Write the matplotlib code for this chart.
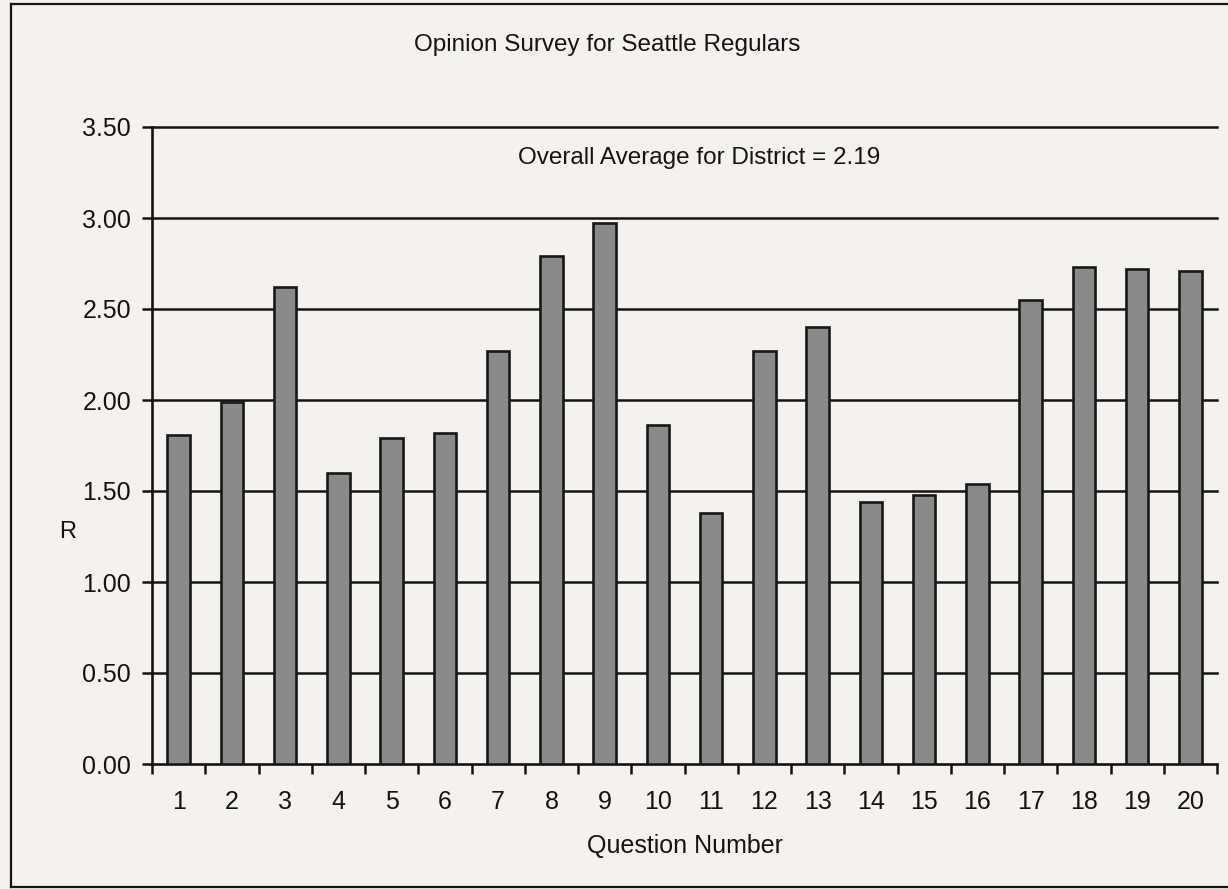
import matplotlib
matplotlib.use("Agg")
import matplotlib.pyplot as plt
from matplotlib.lines import Line2D

questions = list(range(1, 21))
scores = [1.81, 1.99, 2.62, 1.60, 1.79, 1.82, 2.27, 2.79, 2.97, 1.86,
          1.38, 2.27, 2.40, 1.44, 1.48, 1.54, 2.55, 2.73, 2.72, 2.71]
y_ticks = [0.0, 0.5, 1.0, 1.5, 2.0, 2.5, 3.0, 3.5]
y_tick_labels = ["0.00", "0.50", "1.00", "1.50", "2.00", "2.50", "3.00", "3.50"]
title = "Opinion Survey for Seattle Regulars"
note = "Overall Average for District = 2.19"

plt.rcParams['font.family'] = ['Liberation Sans', 'DejaVu Sans']
paper = '#f3f2ee'
ink = '#141414'

fig = plt.figure(figsize=(12.28, 8.89), dpi=100, facecolor=paper)
ax = fig.add_axes([152/1228, 1-764/889, (1217-152)/1228, (764-127)/889])
ax.set_facecolor(paper)

for y in y_ticks[1:]:
    ax.axhline(y, color=ink, lw=1.8, zorder=1, clip_on=False)

ax.bar(questions, scores, width=0.42, color='#8a8a8a', edgecolor='#181818',
       linewidth=1.9, zorder=3)

ax.set_xlim(0.5, 20.5)
ax.set_ylim(0, 3.5)
ax.set_yticks(y_ticks)
ax.set_yticklabels(y_tick_labels, fontsize=18, color=ink)
ax.tick_params(axis='y', direction='out', length=7, width=1.8, pad=8, color=ink)

ax.set_xticks([q - 0.5 for q in questions] + [20.5])
ax.set_xticklabels([])
ax.set_xticks(questions, minor=True)
ax.set_xticklabels([str(q) for q in questions], minor=True, fontsize=18, color=ink)
ax.tick_params(axis='x', which='major', direction='out', length=7, width=1.8, color=ink)
ax.tick_params(axis='x', which='minor', length=0, pad=19)

for s in ['top', 'right']:
    ax.spines[s].set_visible(False)
for s in ['left', 'bottom']:
    ax.spines[s].set_linewidth(1.9)
    ax.spines[s].set_color(ink)

ax.set_xlabel("Question Number", fontsize=18, color=ink, labelpad=14)
fig.text(68/1228, 1-532/889, "R", fontsize=17, ha='center', va='center', color=ink)
fig.text(607/1228, 1-45/889, title, fontsize=17.5, ha='center', va='center', color=ink)
fig.text(699/1228, 1-158/889, note, fontsize=17.5, ha='center', va='center', color=ink)

# outer frame of the scanned figure
fig.add_artist(Line2D([11/1228, 11/1228], [1-887/889, 1-4/889], transform=fig.transFigure, color=ink, lw=1.6))
fig.add_artist(Line2D([11/1228, 1.0], [1-4/889, 1-4/889], transform=fig.transFigure, color=ink, lw=1.6))
fig.add_artist(Line2D([11/1228, 1.0], [1-887/889, 1-887/889], transform=fig.transFigure, color=ink, lw=1.6))

fig.savefig("out.png", dpi=100, facecolor=paper)
